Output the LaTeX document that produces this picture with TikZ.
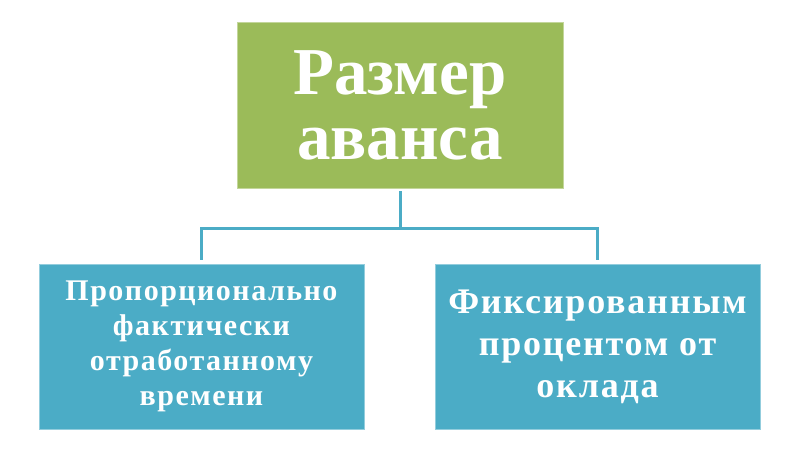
\documentclass[tikz,border=0pt]{standalone}
\usepackage{fontspec}
\setmainfont{Liberation Serif}
\newfontfamily\widefont[LetterSpace=5]{Liberation Serif}
\definecolor{avgreen}{HTML}{9BBB59}
\definecolor{avblue}{HTML}{4BACC6}
\tikzset{
  box/.style={rectangle, align=center, text=white, font=\bfseries, inner sep=0pt},
  headbox/.style={box, fill=avgreen, draw=avgreen!60!white, line width=0.8pt,
    minimum width=326pt, minimum height=166pt},
  kindbox/.style={box, fill=avblue, draw=avblue!60!white, line width=0.8pt,
    minimum width=325pt, minimum height=165pt},
  link/.style={avblue, line width=3pt}
}
\begin{document}
\begin{tikzpicture}[x=1pt, y=-1pt]
    \useasboundingbox (0,0) rectangle (800,450);

    % Head
    \node[headbox, font=\bfseries\fontsize{67}{65}\selectfont] (size) at (400,105)
      {Размер\\аванса};

    % Two kinds of advance
    \node[kindbox, font=\widefont\bfseries\fontsize{30}{35}\selectfont] (prop) at (201.5,346.5)
      {Пропорционально\\фактически\\отработанному\\времени};
    \node[kindbox, font=\widefont\bfseries\fontsize{36}{42}\selectfont] (fixed) at (597.5,346.5)
      {Фиксированным\\процентом от\\оклада};

    % Connectors
    \coordinate (bus) at (400,228);
    \draw[link, shorten <=3pt, shorten >=4pt] (size.south) -- (bus) -| (prop.north);
    \draw[link, shorten >=4pt] (bus) -| (fixed.north);
  \end{tikzpicture}
\end{document}
